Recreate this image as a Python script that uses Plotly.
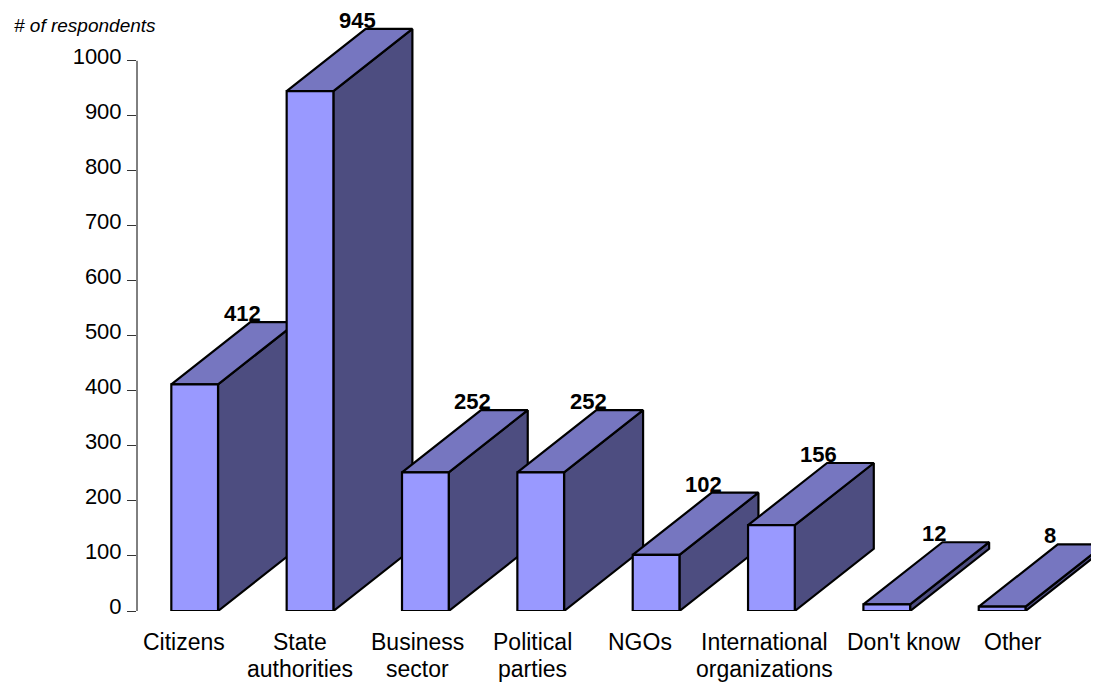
import plotly.graph_objects as go

# data
categories = ["Citizens", "State<br>authorities", "Business<br>sector", "Political<br>parties",
              "NGOs", "International<br>organizations", "Don't know", "Other"]
respondents = [412, 945, 252, 252, 102, 156, 12, 8]
y_ticks = [0, 100, 200, 300, 400, 500, 600, 700, 800, 900, 1000]
y_title = "# of respondents"

# 3D bar look (excel style)
BAR_W = 0.405      # front face width, x units
DEPTH_X = 0.685    # depth offset, x units
DEPTH_Y = 113      # depth offset, y units
FRONT = "#9999FF"
TOP = "#7676C0"
SIDE = "#4D4D80"
EDGE = "black"
FONT = "Arial, Liberation Sans, sans-serif"
label_nudge = [-11, -10, -8, -8, -16, -7, 17, 11]  # px, category label offsets
LINE_GAP = 26.5  # px between category label lines


def closed(xs, ys):
    return xs + [xs[0]], ys + [ys[0]]


fig = go.Figure()

for i, v in enumerate(respondents):
    x0, x1 = i - BAR_W / 2, i + BAR_W / 2
    faces = [
        # side
        ([x1, x1 + DEPTH_X, x1 + DEPTH_X, x1], [0, DEPTH_Y, v + DEPTH_Y, v], SIDE),
        # top
        ([x0, x1, x1 + DEPTH_X, x0 + DEPTH_X], [v, v, v + DEPTH_Y, v + DEPTH_Y], TOP),
        # front
        ([x0, x1, x1, x0], [0, 0, v, v], FRONT),
    ]
    for xs, ys, col in faces:
        xs, ys = closed(xs, ys)
        fig.add_trace(go.Scatter(
            x=xs, y=ys, mode="lines", fill="toself", fillcolor=col,
            line=dict(color=EDGE, width=2.2), hoverinfo="skip", showlegend=False
        ))

    # value label on top of bar
    fig.add_annotation(
        x=i + DEPTH_X / 2, y=v + DEPTH_Y, xref="x", yref="y",
        text="<b>%d</b>" % v, showarrow=False, xanchor="center", yanchor="bottom",
        xshift=8, yshift=-6, font=dict(family=FONT, size=22, color="black")
    )
    # category label, one annotation per line (tighter line spacing than plotly's)
    for k, part in enumerate(categories[i].split("<br>")):
        fig.add_annotation(
            x=i, y=0, xref="x", yref="y", text=part, showarrow=False,
            xanchor="center", yanchor="middle", xshift=label_nudge[i],
            yshift=-31 - k * LINE_GAP,
            font=dict(family=FONT, size=23, color="black")
        )

# vertical axis line only spans the tick range
fig.add_shape(type="line", xref="paper", yref="y", x0=0, x1=0,
              y0=min(y_ticks), y1=max(y_ticks), line=dict(color="black", width=1))

fig.add_annotation(
    xref="paper", yref="paper", x=0, y=1, xanchor="left", yanchor="middle",
    xshift=-125, yshift=-17, text="<i>" + y_title + "</i>", showarrow=False,
    font=dict(family=FONT, size=19, color="black")
)

# page body has an 8px margin, so the figure is sized/offset to compensate
fig.update_layout(
    width=1091, height=674,
    margin=dict(l=129, r=0, t=0, b=71, autoexpand=False),
    paper_bgcolor="white", plot_bgcolor="white",
    font=dict(family=FONT, size=22, color="black"),
    xaxis=dict(range=[-0.5, 7.84], visible=False, fixedrange=True, automargin=False),
    yaxis=dict(
        range=[0, 1096], tickvals=y_ticks, ticks="outside", ticklen=9,
        tickcolor="#333333", tickwidth=1, showline=False, showgrid=False,
        zeroline=False, ticklabelshift=-5, ticklabelstandoff=1, automargin=False,
        tickfont=dict(family=FONT, size=22, color="black")
    ),
)

fig.write_html("out.html")
